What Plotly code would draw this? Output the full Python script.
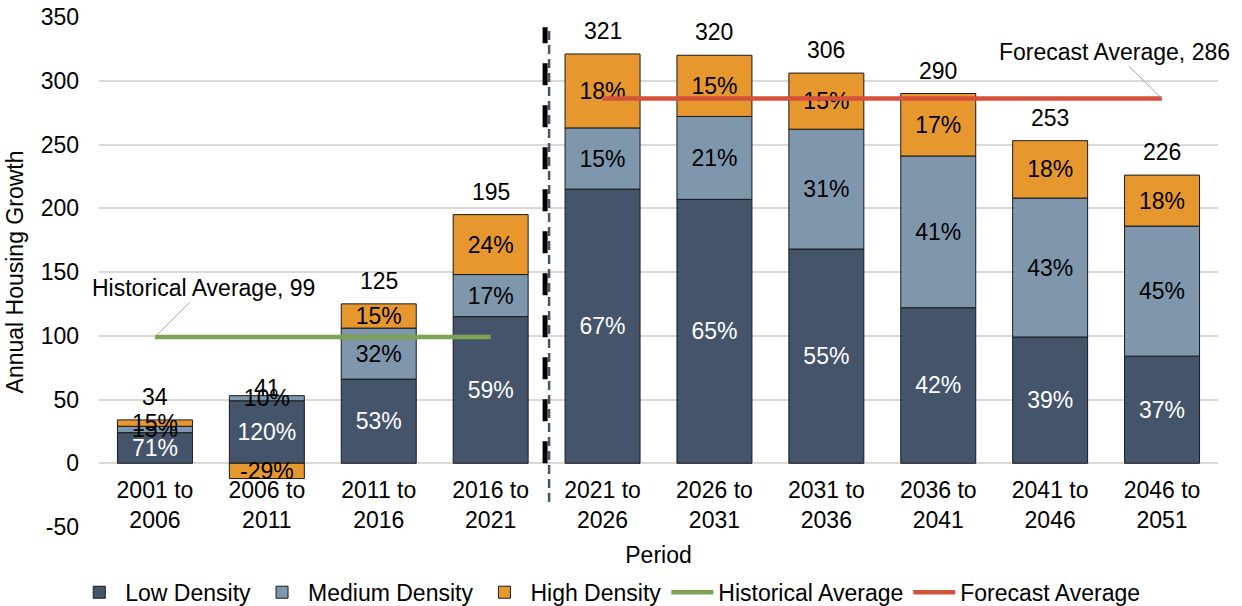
import plotly.graph_objects as go

categories = ["2001 to<br>2006", "2006 to<br>2011", "2011 to<br>2016", "2016 to<br>2021",
              "2021 to<br>2026", "2026 to<br>2031", "2031 to<br>2036", "2036 to<br>2041",
              "2041 to<br>2046", "2046 to<br>2051"]
low_density = [24, 49, 66, 115, 215, 207, 168, 122, 99, 84]
medium_density = [5, 4, 40, 33, 48, 65, 94, 119, 109, 102]
high_density = [5, -12, 19, 47, 58, 48, 44, 49, 45, 40]
totals = [34, 41, 125, 195, 321, 320, 306, 290, 253, 226]
low_pct = [71, 120, 53, 59, 67, 65, 55, 42, 39, 37]
medium_pct = [15, 10, 32, 17, 15, 21, 31, 41, 43, 45]
high_pct = [15, -29, 15, 24, 18, 15, 15, 17, 18, 18]
historical_average = 99
forecast_average = 286
n_historical = 4
y_ticks = [-50, 0, 50, 100, 150, 200, 250, 300, 350]

FONT = "Liberation Sans, Arial, sans-serif"
FS = 23
C_LOW = "#44546A"
C_MED = "#7E97AD"
C_HIGH = "#E6982F"
C_HIST = "#7FA354"
C_FORE = "#D6513A"

fig = go.Figure()

for name, vals, pcts, color, tcolor in [
    ("Low Density", low_density, low_pct, C_LOW, "white"),
    ("Medium Density", medium_density, medium_pct, C_MED, "black"),
    ("High Density", high_density, high_pct, C_HIGH, "black"),
]:
    fig.add_trace(go.Bar(
        x=categories, y=vals, name=name,
        marker=dict(color=color, line=dict(color="#1a1a1a", width=1)),
        text=[f"{p}%" for p in pcts], texttemplate="%{text}",
        textposition="inside", insidetextanchor="middle", textangle=0,
        textfont=dict(family=FONT, size=FS, color=tcolor),
        hoverinfo="skip",
    ))

hist_x = categories[:n_historical]
fore_x = categories[n_historical:]
fig.add_trace(go.Scatter(x=hist_x, y=[historical_average] * len(hist_x), mode="lines",
                         name="Historical Average", line=dict(color=C_HIST, width=4.5)))
fig.add_trace(go.Scatter(x=fore_x, y=[forecast_average] * len(fore_x), mode="lines",
                         name="Forecast Average", line=dict(color=C_FORE, width=4.5)))

# total labels
for c, t in zip(categories, totals):
    fig.add_annotation(x=c, y=t, text=str(t), showarrow=False, yshift=23,
                       font=dict(family=FONT, size=FS, color="black"))

# average labels with leader lines
fig.add_annotation(x=hist_x[0], y=historical_average, text=f"Historical Average, {historical_average}",
                   showarrow=True, arrowhead=0, arrowwidth=1, arrowcolor="#A6A6A6",
                   ax=49, ay=-49, font=dict(family=FONT, size=FS, color="black"))
fig.add_annotation(x=fore_x[-1], y=forecast_average, text=f"Forecast Average, {forecast_average}",
                   showarrow=True, arrowhead=0, arrowwidth=1, arrowcolor="#A6A6A6",
                   ax=-48, ay=-47, font=dict(family=FONT, size=FS, color="black"))

# divider between historical and forecast periods
divider = n_historical - 0.5
fig.add_shape(type="line", xref="x", yref="paper", xsizemode="pixel", xanchor=divider,
              x0=2.5, x1=2.5, y0=0.049, y1=0.98,
              line=dict(color="#44546A", width=2.5, dash="9px,5px"))
fig.add_shape(type="line", xref="x", yref="paper", xsizemode="pixel", xanchor=divider,
              x0=-1.5, x1=-1.5, y0=0.125, y1=0.98,
              line=dict(color="black", width=5, dash="22px,20px"))

fig.update_layout(
    width=1242, height=606,
    margin=dict(l=99, r=24, t=17, b=79, autoexpand=False),
    paper_bgcolor="white", plot_bgcolor="white",
    barmode="relative", bargap=0.33,
    font=dict(family=FONT, size=FS, color="black"),
    showlegend=True,
    legend=dict(orientation="h", x=0.456, xanchor="center", y=-0.128, yanchor="middle",
                font=dict(family=FONT, size=FS, color="black"), traceorder="normal",
                itemwidth=42),
    uniformtext=dict(minsize=FS, mode="show"),
    xaxis=dict(anchor="free", position=0.125, showgrid=False, showline=False,
               range=[-0.5, len(categories) - 0.5],
               ticks="", ticklabelstandoff=11, tickfont=dict(size=FS), automargin=False,
               title=dict(text="Period", standoff=14, font=dict(size=FS))),
    yaxis=dict(range=[-50, 350], tickvals=y_ticks, ticktext=[str(v) for v in y_ticks],
               showgrid=True, gridcolor="#D9D9D9", gridwidth=1.5,
               zeroline=True, zerolinecolor="#D9D9D9", zerolinewidth=1.5, automargin=False,
               ticks="", ticklabelstandoff=19, tickfont=dict(size=FS),
               title=dict(text="Annual Housing Growth", standoff=10, font=dict(size=23))),
)

fig.write_html("out.html")
